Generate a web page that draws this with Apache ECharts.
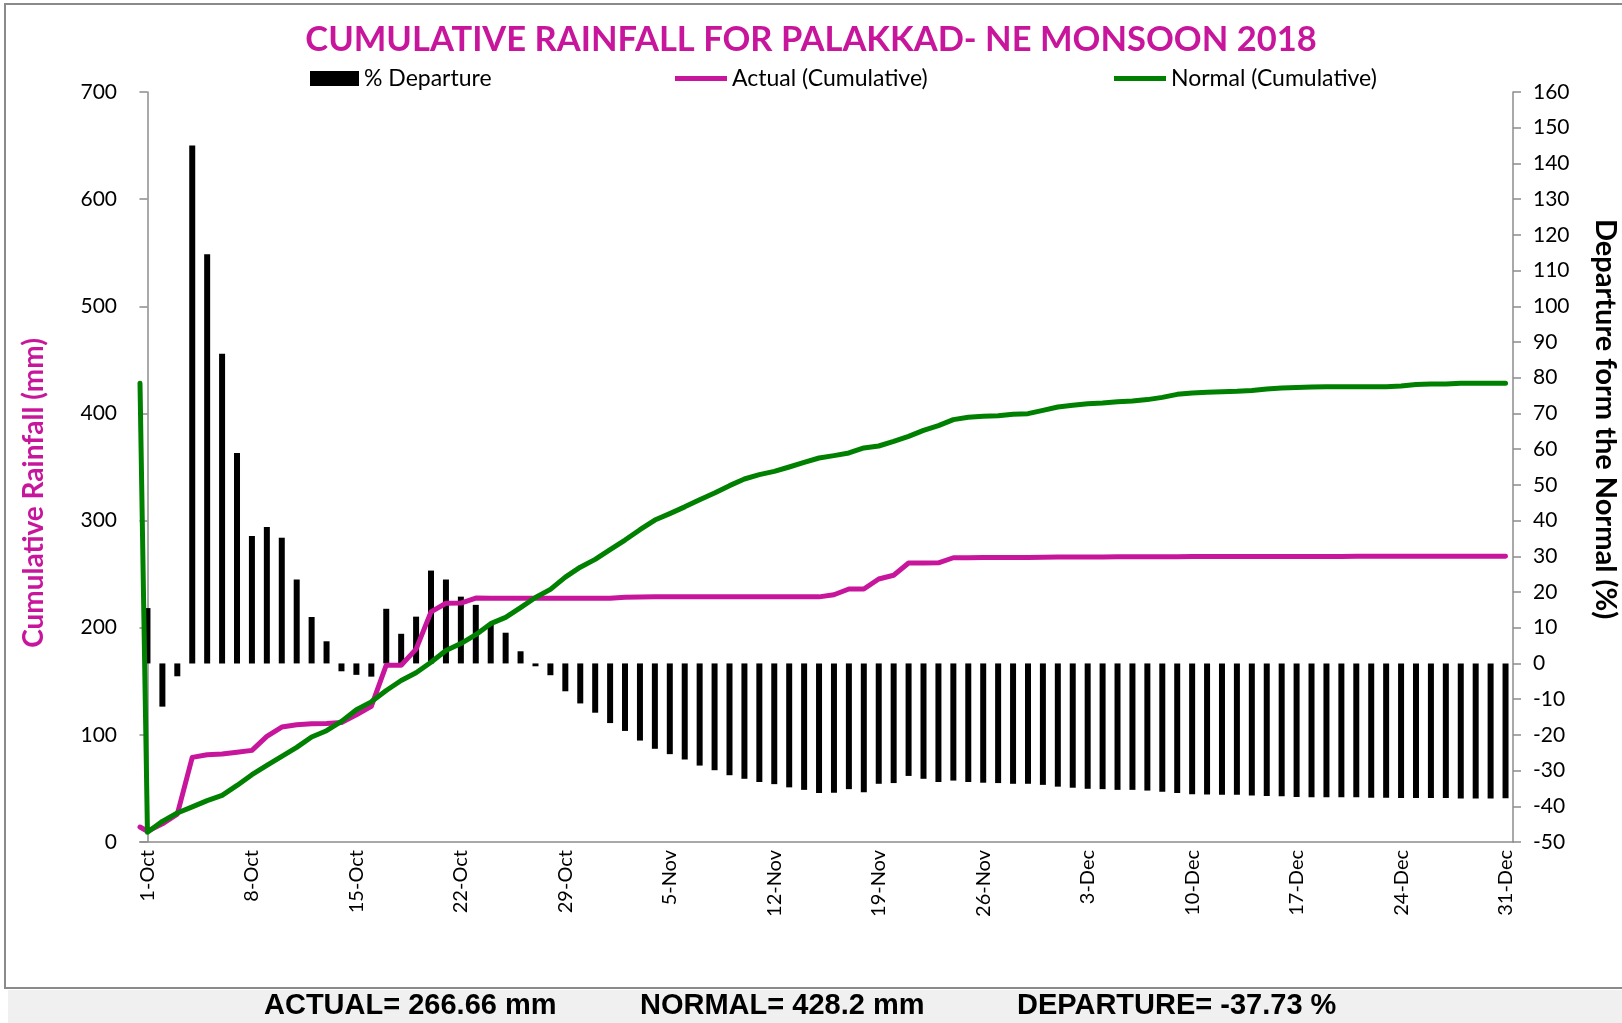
<!DOCTYPE html>
<html>
<head>
<meta charset="utf-8">
<script src="https://cdn.jsdelivr.net/npm/echarts@6/dist/echarts.min.js"></script>
<style>
  html, body { margin: 0; padding: 0; background: #fff; }
  #chart { width: 1622px; height: 1023px; }
</style>
</head>
<body>
<div id="chart"></div>
<script>
// day labels 1-Oct .. 31-Dec
const monthDays = [["Oct", 31], ["Nov", 30], ["Dec", 31]];
const days = [];
monthDays.forEach(([m, n]) => {
  for (let d = 1; d <= n; d++) days.push(d + "-" + m);
});

// % departure from normal (right axis)
const departure = [
  15.5, -12.1, -3.6, 145.0, 114.6, 86.7, 58.9, 35.7, 38.2, 35.2,
  23.5, 13.0, 6.2, -2.2, -3.2, -3.7, 15.3, 8.3, 13.1, 26.0,
  23.5, 18.7, 16.4, 11.3, 8.6, 3.4, -0.8, -3.3, -7.8, -11.2,
  -13.8, -16.7, -18.9, -21.6, -23.9, -25.4, -26.9, -28.6, -29.9, -31.3,
  -32.3, -33.2, -33.8, -34.7, -35.4, -36.3, -36.2, -35.2, -36.1, -33.7,
  -33.5, -31.5, -32.3, -33.2, -32.8, -33.2, -33.4, -33.5, -33.7, -33.7,
  -34.0, -34.5, -34.8, -35.1, -35.2, -35.4, -35.4, -35.6, -35.9, -36.3,
  -36.6, -36.7, -36.8, -36.8, -37.0, -37.1, -37.2, -37.4, -37.5, -37.5,
  -37.5, -37.5, -37.6, -37.6, -37.7, -37.7, -37.7, -37.7, -37.8, -37.8,
  -37.8, -37.73
];

// cumulative rainfall, mm (left axis); the sheet has one extra leading point
const actualLead = 14;
const actual = [
  10, 17, 26, 79, 81.5, 82.1, 83.8, 85.5, 98.6, 107.3,
  109.5, 110.4, 110.6, 111.5, 118.8, 126.6, 165, 165, 180, 214.8,
  222.8, 223, 227.7, 227.5, 227.5, 227.5, 227.5, 227.5, 227.5, 227.5,
  227.5, 227.5, 228.5, 228.7, 228.8, 228.8, 228.8, 228.8, 228.8, 228.8,
  228.8, 228.8, 228.8, 228.8, 228.8, 228.8, 230.8, 236.1, 236.1, 245.5,
  249, 260.4, 260.4, 260.6, 265.3, 265.4, 265.5, 265.5, 265.6, 265.6,
  265.7, 266.0, 266.0, 266.1, 266.1, 266.2, 266.2, 266.3, 266.3, 266.3,
  266.4, 266.4, 266.4, 266.4, 266.5, 266.5, 266.5, 266.5, 266.5, 266.5,
  266.5, 266.6, 266.6, 266.6, 266.6, 266.6, 266.6, 266.6, 266.6, 266.6,
  266.6, 266.66
];

const normalLead = 428.2;
const normal = [
  9, 19.3, 27.1, 32.8, 38.6, 43.5, 52.8, 62.8, 71.5, 79.9,
  88.3, 98, 103.9, 112.6, 123.5, 130.8, 141.4, 150.7, 158, 167.8,
  178.7, 185.2, 193.5, 203.8, 209.6, 218.8, 228.2, 235.8, 247.2, 256.5,
  263.8, 272.8, 281.8, 291.5, 300.5, 306.5, 312.8, 319.5, 325.8, 332.6,
  338.8, 342.9, 345.9, 350, 354.3, 358.4, 360.6, 363.1, 367.8, 369.6,
  373.9, 378.6, 384.2, 388.6, 394.2, 396.4, 397.3, 397.9, 399.2, 399.8,
  402.9, 406, 407.6, 409.1, 409.8, 411, 411.6, 412.9, 415, 417.8,
  419.1, 419.7, 420.3, 420.6, 421.3, 422.8, 423.8, 424.3, 424.7, 425,
  425, 425, 425, 425, 425.6, 427.1, 427.5, 427.5, 428.1, 428.2,
  428.2, 428.2
];

const MAGENTA = "#C8169C";
const GREEN = "#008000";
const AXIS_GRAY = "#8c8c8c";

// lead point sits on the left edge of the plot, the rest on day centres
function toPairs(lead, arr) {
  return [[-0.5, lead]].concat(arr.map((v, i) => [i, v]));
}

const chart = echarts.init(document.getElementById("chart"));

const legendText = { fontSize: 23, color: "#000", fontFamily: "Lato" };

const option = {
  backgroundColor: "#fff",
  animation: false,
  title: {
    text: "CUMULATIVE RAINFALL FOR PALAKKAD- NE MONSOON 2018",
    left: "center",
    top: 17,
    padding: [5, 5, 5, 27],
    textStyle: { color: MAGENTA, fontSize: 34.5, fontWeight: "bold", fontFamily: "Lato" },
  },
  legend: [
    {
      left: 310, top: 67, padding: 0, itemWidth: 49, itemHeight: 15, textStyle: legendText,
      data: [{ name: "% Departure", icon: "rect" }],
    },
    {
      left: 675, top: 67, padding: 0, itemWidth: 52, itemHeight: 5, textStyle: legendText,
      data: [{ name: "Actual (Cumulative)", icon: "rect" }],
    },
    {
      left: 1114, top: 67, padding: 0, itemWidth: 52, itemHeight: 5, textStyle: legendText,
      data: [{ name: "Normal (Cumulative)", icon: "rect" }],
    },
  ],
  grid: { left: 140, right: 109, top: 92, bottom: 181 },
  xAxis: [
    {
      type: "category",
      data: days,
      boundaryGap: true,
      axisLine: { lineStyle: { color: AXIS_GRAY, width: 1.5 } },
      axisTick: { interval: 6, length: 8, lineStyle: { color: AXIS_GRAY, width: 1.5 } },
      axisLabel: { interval: 6, rotate: 90, margin: 8, fontSize: 20, color: "#000", fontFamily: "Lato" },
      splitLine: { show: false },
    },
    { type: "value", min: -0.5, max: 91.5, show: false },
  ],
  yAxis: [
    {
      type: "value",
      min: 0,
      max: 700,
      interval: 100,
      axisLine: { show: true, lineStyle: { color: AXIS_GRAY, width: 1.5 } },
      axisTick: { show: true, length: 8, lineStyle: { color: AXIS_GRAY, width: 1.5 } },
      axisLabel: { margin: 23, fontSize: 21, color: "#000", fontFamily: "Lato" },
      splitLine: { show: false },
    },
    {
      type: "value",
      position: "right",
      min: -50,
      max: 160,
      interval: 10,
      axisLine: { show: true, lineStyle: { color: AXIS_GRAY, width: 1.5 } },
      axisTick: { show: true, length: 8, lineStyle: { color: AXIS_GRAY, width: 1.5 } },
      axisLabel: { margin: 20, fontSize: 21, color: "#000", fontFamily: "Lato" },
      splitLine: { show: false },
    },
  ],
  series: [
    {
      name: "% Departure",
      type: "bar",
      xAxisIndex: 0,
      yAxisIndex: 1,
      barWidth: 6,
      itemStyle: { color: "#000" },
      data: departure,
      z: 1,
    },
    {
      name: "Actual (Cumulative)",
      type: "line",
      xAxisIndex: 1,
      yAxisIndex: 0,
      symbol: "none",
      color: MAGENTA,
      lineStyle: { color: MAGENTA, width: 5, cap: "round", join: "round" },
      data: toPairs(actualLead, actual),
      z: 3,
    },
    {
      name: "Normal (Cumulative)",
      type: "line",
      xAxisIndex: 1,
      yAxisIndex: 0,
      symbol: "none",
      color: GREEN,
      lineStyle: { color: GREEN, width: 5, cap: "round", join: "round" },
      data: toPairs(normalLead, normal),
      z: 4,
    },
  ],
  graphic: [
    // outer frame of the chart area
    { type: "rect", z: -10, shape: { x: 5, y: 4, width: 1640, height: 984 }, style: { fill: "#fff", stroke: "#8a8a8a", lineWidth: 2 } },
    // summary strip
    { type: "rect", z: -10, shape: { x: 8, y: 990, width: 1614, height: 33 }, style: { fill: "#f0f0f0" } },
    { type: "text", x: 264, y: 1006, style: { text: "ACTUAL= 266.66 mm", fill: "#000", font: "bold 29px 'Liberation Sans', Arial", verticalAlign: "middle" } },
    { type: "text", x: 640, y: 1006, style: { text: "NORMAL= 428.2 mm", fill: "#000", font: "bold 29px 'Liberation Sans', Arial", verticalAlign: "middle" } },
    { type: "text", x: 1017, y: 1006, style: { text: "DEPARTURE= -37.73 %", fill: "#000", font: "bold 29px 'Liberation Sans', Arial", verticalAlign: "middle" } },
    // axis names
    {
      type: "text", x: 34, y: 493, rotation: Math.PI / 2,
      style: { text: "Cumulative Rainfall (mm)", fill: MAGENTA, font: "bold 28px Lato", align: "center", verticalAlign: "middle" },
    },
    {
      type: "text", x: 1605, y: 419, rotation: -Math.PI / 2,
      style: { text: "Departure form the Normal (%)", fill: "#000", font: "bold 29px Lato", align: "center", verticalAlign: "middle" },
    },
  ],
};

chart.setOption(option);
</script>
</body>
</html>
